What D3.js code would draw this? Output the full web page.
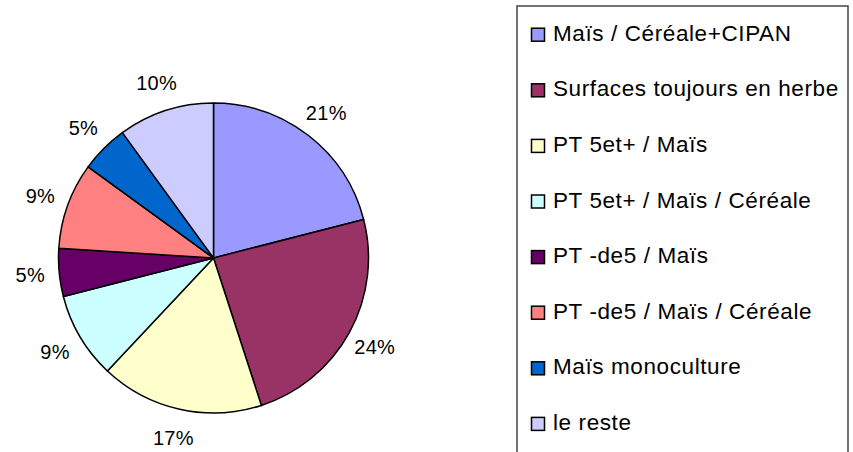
<!DOCTYPE html>
<html>
<head>
<meta charset="utf-8">
<script src="https://cdn.jsdelivr.net/npm/d3@7"></script>
<style>
  body { margin: 0; background: #fff; }
  text { font-family: "Liberation Sans", Arial, sans-serif; fill: #000; }
</style>
</head>
<body>
<div id="chart"></div>
<script>
// pie data
var labels = ["Maïs / Céréale+CIPAN", "Surfaces toujours en herbe", "PT 5et+ / Maïs",
              "PT 5et+ / Maïs / Céréale", "PT -de5 / Maïs", "PT -de5 / Maïs / Céréale",
              "Maïs monoculture", "le reste"];
var values = [21, 24, 17, 9, 5, 9, 5, 10];
var colors = ["#9999FF", "#993366", "#FFFFCC", "#CCFFFF", "#660066", "#FF8080", "#0066CC", "#CCCCFF"];

var width = 853, height = 452;
var cx = 213.5, cy = 258, radius = 155;

var svg = d3.select("#chart")
  .append("svg")
    .attr("width", width)
    .attr("height", height);

var data = labels.map(function(d, i) { return {label: d, value: values[i], color: colors[i]}; });

var pie = d3.pie()
  .sort(null)
  .value(function(d) { return d.value; });

var arc = d3.arc().innerRadius(0).outerRadius(radius);
var labelArc = d3.arc().innerRadius(184).outerRadius(184);

var g = svg.append("g")
  .attr("transform", "translate(" + cx + "," + cy + ")");

var arcs = pie(data);

g.selectAll("path")
  .data(arcs)
  .enter()
  .append("path")
    .attr("d", arc)
    .attr("fill", function(d) { return d.data.color; })
    .attr("stroke", "#000")
    .attr("stroke-width", 1.5)
    .attr("stroke-linejoin", "round");

var total = d3.sum(values);
g.selectAll("text")
  .data(arcs)
  .enter()
  .append("text")
    .attr("transform", function(d) { return "translate(" + labelArc.centroid(d) + ")"; })
    .attr("text-anchor", "middle")
    .attr("dy", "0.35em")
    .attr("font-size", "20px")
    .attr("letter-spacing", "0.3px")
    .text(function(d) { return Math.round(d.data.value / total * 100) + "%"; });

// legend
svg.append("rect")
  .attr("x", 517)
  .attr("y", 6)
  .attr("width", 331)
  .attr("height", 460)
  .attr("fill", "none")
  .attr("stroke", "#444")
  .attr("stroke-width", 1.5);

var legend = svg.selectAll(".leg")
  .data(data)
  .enter()
  .append("g")
    .attr("class", "leg")
    .attr("transform", function(d, i) { return "translate(0," + (40.7 + i * 55.6) + ")"; });

legend.append("rect")
  .attr("x", 531.5)
  .attr("y", -12.5)
  .attr("width", 13)
  .attr("height", 13)
  .attr("fill", function(d) { return d.color; })
  .attr("stroke", "#000")
  .attr("stroke-width", 1.5);

legend.append("text")
  .attr("x", 553)
  .attr("y", 0)
  .attr("font-size", "22.5px")
  .attr("letter-spacing", "0.6px")
  .text(function(d) { return d.label; });
</script>
</body>
</html>
